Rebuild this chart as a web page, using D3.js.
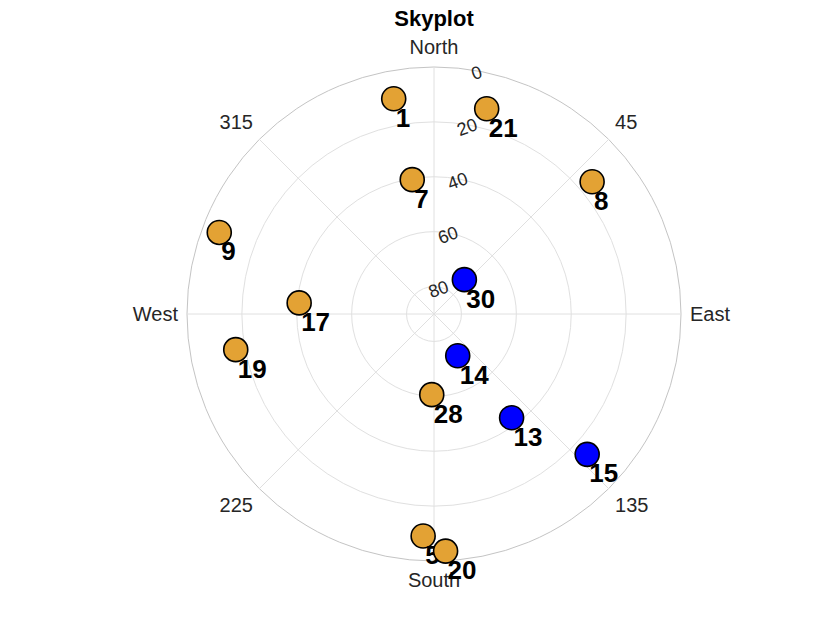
<!DOCTYPE html>
<html>
<head>
<meta charset="utf-8">
<script src="https://cdn.jsdelivr.net/npm/d3@7"></script>
<style>
  html, body { margin: 0; padding: 0; background: #fff; }
  svg { display: block; font-family: "Liberation Sans", Arial, Helvetica, sans-serif; }
</style>
</head>
<body>
<svg id="chart" width="840" height="630"></svg>
<script>
// ---- data ----
const satIds     = [1, 21, 7, 9, 17, 30, 8, 19, 14, 28, 13, 15, 5, 20];
const azimuths   = [349.4, 14.4, 350.8, 290.8, 274.7, 41.5, 50.1, 259.8, 150.4, 181.6, 143.2, 132.5, 182.8, 177.2];
const elevations = [10.2, 12.8, 40.4, 6.3, 40.7, 73.3, 14.9, 16.6, 72.5, 60.6, 42.8, 14.3, 9.0, 3.5];
const groups     = ["a", "a", "a", "a", "a", "b", "a", "a", "b", "a", "b", "b", "a", "a"];
const azTicks    = [0, 45, 90, 135, 180, 225, 270, 315];
const azLabels   = ["North", "45", "East", "135", "South", "225", "West", "315"];
const elTicks    = [0, 20, 40, 60, 80];
const title      = "Skyplot";

// ---- layout ----
const W = 840, H = 630;
const cx = 434, cy = 314, R = 247;
const colors = { a: "#E3A234", b: "#0000FF" };

const svg = d3.select("#chart");
const g = svg.append("g").attr("transform", `translate(${cx},${cy})`);

// elevation -> radius
const rScale = d3.scaleLinear().domain([90, 0]).range([0, R]);
const toRad = d => d * Math.PI / 180;
const px = (az, el) => rScale(el) * Math.sin(toRad(az));
const py = (az, el) => -rScale(el) * Math.cos(toRad(az));

// grid circles
g.selectAll("circle.ring").data(elTicks).join("circle")
  .attr("class", "ring")
  .attr("r", d => rScale(d))
  .attr("fill", "none")
  .attr("stroke", d => d === 0 ? "#c4c4c4" : "#e0e0e0")
  .attr("stroke-width", 1);

// radial lines
g.selectAll("line.spoke").data(azTicks).join("line")
  .attr("class", "spoke")
  .attr("x1", 0).attr("y1", 0)
  .attr("x2", d => px(d, 0)).attr("y2", d => py(d, 0))
  .attr("stroke", "#e0e0e0").attr("stroke-width", 1);

// azimuth labels
const labR = R + 9;
g.selectAll("text.az").data(azTicks).join("text")
  .attr("class", "az")
  .attr("x", d => labR * Math.sin(toRad(d)))
  .attr("y", d => -labR * Math.cos(toRad(d)))
  .attr("text-anchor", d => { const s = Math.sin(toRad(d)); return s > 0.1 ? "start" : (s < -0.1 ? "end" : "middle"); })
  .attr("dy", d => { const c = Math.cos(toRad(d)); return c > 0.1 ? "-0.22em" : (c < -0.1 ? "0.86em" : "0.35em"); })
  .attr("font-size", 20)
  .attr("fill", "#262626")
  .text((d, i) => azLabels[i]);

// elevation labels
const elLabAz = 10;
g.selectAll("text.el").data(elTicks).join("text")
  .attr("class", "el")
  .attr("transform", d => `translate(${(rScale(d) - 2) * Math.sin(toRad(elLabAz))},${-(rScale(d) - 2) * Math.cos(toRad(elLabAz))}) rotate(-20)`)
  .attr("text-anchor", "middle")
  .attr("dy", "0.35em")
  .attr("font-size", 18)
  .attr("fill", "#262626")
  .text(d => d);

// satellites
const sats = satIds.map((id, i) => ({ id, az: azimuths[i], el: elevations[i], grp: groups[i] }));
const sg = g.selectAll("g.sat").data(sats).join("g").attr("class", "sat")
  .attr("transform", d => `translate(${px(d.az, d.el)},${py(d.az, d.el)})`);
sg.append("circle")
  .attr("r", 12)
  .attr("fill", d => colors[d.grp])
  .attr("stroke", "#000").attr("stroke-width", 1.6);
sg.append("text")
  .attr("x", 2).attr("y", 28)
  .attr("font-size", 26).attr("font-weight", "bold")
  .attr("fill", "#000")
  .text(d => d.id);

// title
svg.append("text")
  .attr("x", cx).attr("y", 26)
  .attr("text-anchor", "middle")
  .attr("font-size", 22).attr("font-weight", "bold")
  .attr("fill", "#000")
  .text(title);
</script>
</body>
</html>
